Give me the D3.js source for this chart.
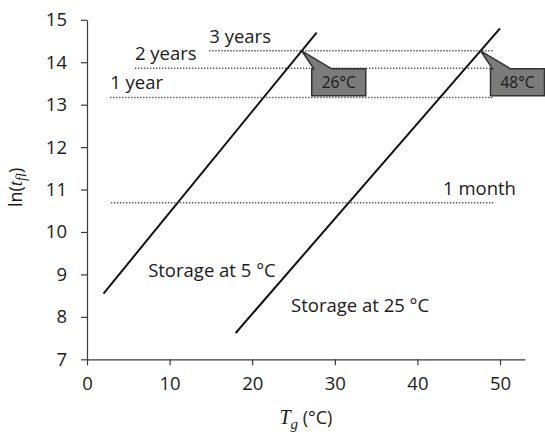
<!DOCTYPE html>
<html>
<head>
<meta charset="utf-8">
<script src="https://cdn.jsdelivr.net/npm/d3@7"></script>
<style>
  html, body { margin: 0; padding: 0; background: #fff; }
  svg { display: block; }
  text { font-family: "Open Sans", Lato, sans-serif; fill: #1a1a1a; }
</style>
</head>
<body>
<svg id="chart" width="545" height="432"></svg>
<script>
// Shelf-life lines: ln(t_fl) against glass transition temperature Tg
const seriesNames = ["Storage at 5 °C", "Storage at 25 °C"];
const storage5Tg = [2.0, 27.8];
const storage5Ln = [8.55, 14.70];
const storage25Tg = [18.0, 50.0];
const storage25Ln = [7.62, 14.80];

// Storage-time thresholds (ln of minutes) and the Tg span each reference line covers
const thresholdNames = ["1 month", "1 year", "2 years", "3 years"];
const thresholdLn = [10.69, 13.17, 13.86, 14.27];
const thresholdFrom = [2.9, 2.8, 5.8, 14.8];
const thresholdTo = [49.2, 49.2, 49.2, 49.2];
const thresholdLabelTg = [43.1, 2.8, 5.8, 14.8];

const xTicks = [0, 10, 20, 30, 40, 50];
const yTicks = [7, 8, 9, 10, 11, 12, 13, 14, 15];

const svg = d3.select("#chart");
const x = d3.scaleLinear().domain([0, 53]).range([87, 524.8]);
const y = d3.scaleLinear().domain([7, 15]).range([359.3, 19.8]);

// Axes
const xAxis = svg.append("g")
  .attr("transform", `translate(0,${y(7)})`)
  .call(d3.axisBottom(x).tickValues(xTicks).tickSize(6).tickSizeOuter(0).tickPadding(12));
const yAxis = svg.append("g")
  .attr("transform", `translate(${x(0)},0)`)
  .call(d3.axisLeft(y).tickValues(yTicks).tickSize(6).tickSizeOuter(0).tickPadding(14));
[xAxis, yAxis].forEach(g => {
  g.selectAll("path.domain").attr("stroke", "#3a3a3a").attr("stroke-width", 1.2);
  g.selectAll(".tick line").attr("stroke", "#3a3a3a").attr("stroke-width", 1.2);
  g.selectAll(".tick text").style("font-family", "'Open Sans', sans-serif")
    .style("font-size", "18.5px").attr("fill", "#1a1a1a");
});

// Axis titles
const xt = svg.append("text").attr("x", x(26.5)).attr("y", 424)
  .attr("text-anchor", "middle").style("font-size", "18px");
xt.append("tspan").text("T").style("font-family", "'Liberation Serif', serif").style("font-style", "italic").style("font-size", "20px");
xt.append("tspan").text("g").attr("dy", 5).style("font-family", "'Liberation Serif', serif").style("font-style", "italic").style("font-size", "15px");
xt.append("tspan").text(" (°C)").attr("dy", -5);

const yt = svg.append("text").attr("transform", `translate(22,${y(11.05)}) rotate(-90)`)
  .attr("text-anchor", "middle").style("font-size", "18px");
yt.append("tspan").text("ln(");
yt.append("tspan").text("t").style("font-family", "'Liberation Serif', serif").style("font-style", "italic").style("font-size", "19px");
yt.append("tspan").text("fl").attr("dy", 4).style("font-family", "'Liberation Serif', serif").style("font-style", "italic").style("font-size", "14px");
yt.append("tspan").text(")").attr("dy", -4);

// Dotted threshold lines and their labels
thresholdNames.forEach((name, i) => {
  svg.append("line")
    .attr("x1", x(thresholdFrom[i])).attr("x2", x(thresholdTo[i]))
    .attr("y1", y(thresholdLn[i])).attr("y2", y(thresholdLn[i]))
    .attr("stroke", "#555").attr("stroke-width", 1.6).attr("stroke-dasharray", "1.4,1.6");
  svg.append("text")
    .attr("x", x(thresholdLabelTg[i])).attr("y", y(thresholdLn[i]) - 8)
    .style("font-size", "18.5px").text(name);
});

// Storage lines
const series = [
  { name: seriesNames[0], tg: storage5Tg, ln: storage5Ln, labelTg: 7.4, labelLn: 8.95 },
  { name: seriesNames[1], tg: storage25Tg, ln: storage25Ln, labelTg: 24.7, labelLn: 8.12 }
];
const line = d3.line().x(d => x(d[0])).y(d => y(d[1]));
series.forEach(s => {
  svg.append("path")
    .datum(s.tg.map((t, i) => [t, s.ln[i]]))
    .attr("d", line).attr("fill", "none")
    .attr("stroke", "#111").attr("stroke-width", 2);
  svg.append("text").attr("x", x(s.labelTg)).attr("y", y(s.labelLn))
    .style("font-size", "18.5px").text(s.name);
});

// Callouts at the 3-year crossing of each storage line
const threeYears = thresholdLn[3];
series.forEach(s => {
  const slope = (s.ln[1] - s.ln[0]) / (s.tg[1] - s.tg[0]);
  const tgCross = s.tg[0] + (threeYears - s.ln[0]) / slope;
  const tipX = x(tgCross), tipY = y(threeYears);
  const bx = tipX + 10, by = tipY + 18, bw = 54, bh = 27;
  const g = svg.append("g");
  g.append("path")
    .attr("d", `M${bx},${by} L${bx},${by + bh} L${bx + bw},${by + bh} L${bx + bw},${by} L${bx + 20},${by} L${tipX},${tipY} L${bx + 2},${by} Z`)
    .attr("fill", "#7b7b7b").attr("stroke", "#333").attr("stroke-width", 1.5)
    .attr("stroke-linejoin", "miter");
  g.append("text").attr("x", bx + bw / 2).attr("y", by + bh / 2 + 5.5)
    .attr("text-anchor", "middle").style("font-size", "15.5px")
    .attr("fill", "#fff").text(`${Math.round(tgCross)}°C`);
});
</script>
</body>
</html>
